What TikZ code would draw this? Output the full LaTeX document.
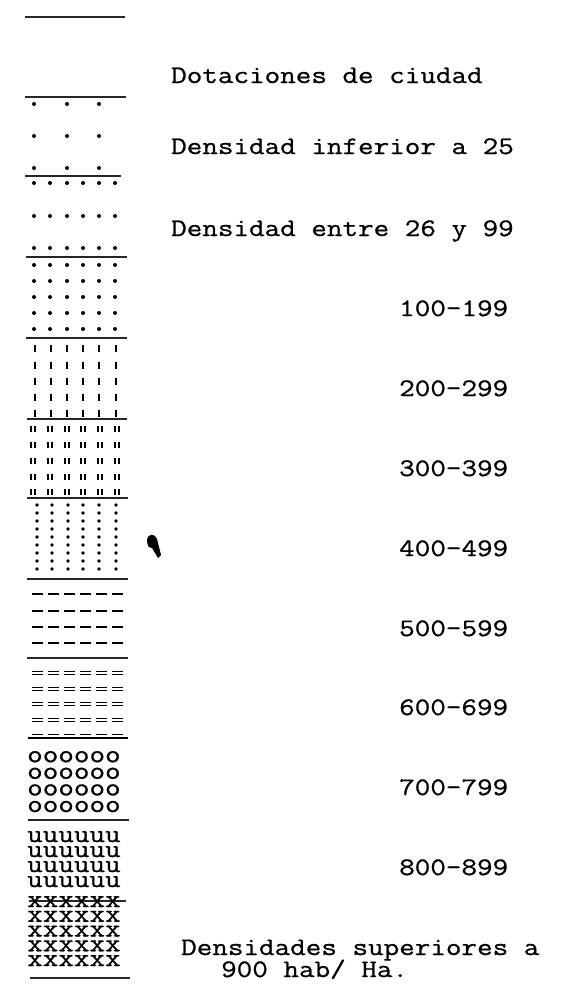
\documentclass[tikz,border=0pt]{standalone}
\usepackage{fontspec}
\setmainfont{Latin Modern Mono}[FakeStretch=1.2,FakeBold=0.8]
\usepackage{tikz}
\tikzset{
  rule/.style={line width=1.3pt, draw=black!85, line cap=butt},
  heavyrule/.style={line width=2.4pt, draw=black, line cap=butt},
  spot/.style={fill=black},
  tickmark/.style={line width=2.6pt, draw=black, line cap=butt},
  pairmark/.style={line width=1.8pt, draw=black, line cap=butt},
  dashmark/.style={line width=2.2pt, draw=black, line cap=butt},
  eqmark/.style={line width=1.2pt, draw=black, line cap=butt},
  legend/.style={anchor=base west, inner sep=0pt, text height=15.5pt, text depth=5pt,
    font=\fontsize{25.2}{27}\selectfont},
  typed/.style={anchor=base west, inner sep=0pt, align=left},
}
\begin{document}
\begin{tikzpicture}[x=1pt,y=-1pt]
\useasboundingbox (0,0) rectangle (577,990);
% rules between the bands
\draw[rule] (25,17) -- (125,17);
\draw[rule] (25,97) -- (126,97);
\draw[rule] (25,176) -- (121,176);
\draw[rule] (26,257) -- (127,257);
\draw[rule] (26,338) -- (127,338);
\draw[rule] (27,419) -- (127,419);
\draw[rule] (27,498) -- (128,498);
\draw[rule] (27,579) -- (128,579);
\draw[rule] (27,658) -- (128,658);
\draw[heavyrule] (28,738) -- (128,738);
\draw[rule] (28,820) -- (129,820);
\draw[rule] (29,901) -- (126,901);
\draw[rule] (30,978) -- (130,978);
% dotted bands
\foreach \y in {104,136,168}
  \foreach \x in {34,67,99}
    \fill[spot] (\x,\y) circle (2.0);
\foreach \y in {183,216,248}
  \foreach \x in {34,50,67,83,99,115}
    \fill[spot] (\x,\y) circle (2.0);
\foreach \y in {265,281,297,313,329}
  \foreach \x in {34,50,67,83,99,115}
    \fill[spot] (\x,\y) circle (2.0);
% ticks
\foreach \y in {348,365,381,397,413}
  \foreach \x in {35,51,67,83,99,116}
    \draw[tickmark] (\x,\y-3.5) -- (\x,\y+3.5);
\foreach \y in {429,445,461,477,492}
  \foreach \x in {33,50,67,83,100,117} {
    \draw[pairmark] (\x-2.2,\y-3) -- (\x-2.2,\y+3);
    \draw[pairmark] (\x+2.2,\y-3) -- (\x+2.2,\y+3);
  }
% colons
\foreach \y in {505,513,521,529,537,545,553,561,569}
  \foreach \x in {37,52,68,83,99,116}
    \fill[spot] (\x,\y) circle (1.8);
% dashes
\foreach \y in {594,611,627,643}
  \foreach \x in {37,53,69,85,101,117}
    \draw[dashmark] (\x-5.5,\y) -- (\x+5.5,\y);
\foreach \y in {673,689,704,720,736}
  \foreach \x in {37,53,69,85,101,117} {
    \draw[eqmark] (\x-5.5,\y-1.7) -- (\x+5.5,\y-1.7);
    \draw[eqmark] (\x-5.5,\y+1.7) -- (\x+5.5,\y+1.7);
  }
% typed letters (base = last line)
\node[typed, font=\fontsize{25.2}{16.6}\selectfont] (oband) at (27,812)
  {oooooo\\oooooo\\oooooo\\oooooo};
\node[typed, font=\fontsize{25.2}{15}\selectfont] (uband) at (27,887)
  {uuuuuu\\uuuuuu\\uuuuuu\\uuuuuu};
\node[typed, font=\fontsize{25.2}{14.75}\selectfont] (xband) at (27,966)
  {xxxxxx\\xxxxxx\\xxxxxx\\xxxxxx\\xxxxxx};
% ink blot
\fill[black] (147,541) .. controls (147,533) and (155,533) .. (157,539)
  -- (161,555) -- (158,558) -- (152,548) .. controls (148,547) .. cycle;
% labels
\node[legend] (dotac) at (171,83) {Dotaciones de ciudad};
\node[legend] (dinf) at (171,154) {Densidad inferior a 25};
\node[legend] (dent) at (171,236) {Densidad entre 26 y 99};
\node[legend] (d100) at (399,316) {100-199};
\node[legend] (d200) at (399,396) {200-299};
\node[legend] (d300) at (399,476) {300-399};
\node[legend] (d400) at (399,556) {400-499};
\node[legend] (d500) at (399,636) {500-599};
\node[legend] (d600) at (399,715) {600-699};
\node[legend] (d700) at (399,795) {700-799};
\node[legend] (d800) at (399,875) {800-899};
\node[legend] (dsup) at (181,955) {Densidades superiores a};
\node[legend] (dhab) at (221,977) {900 hab/ Ha.};
\end{tikzpicture}
\end{document}
